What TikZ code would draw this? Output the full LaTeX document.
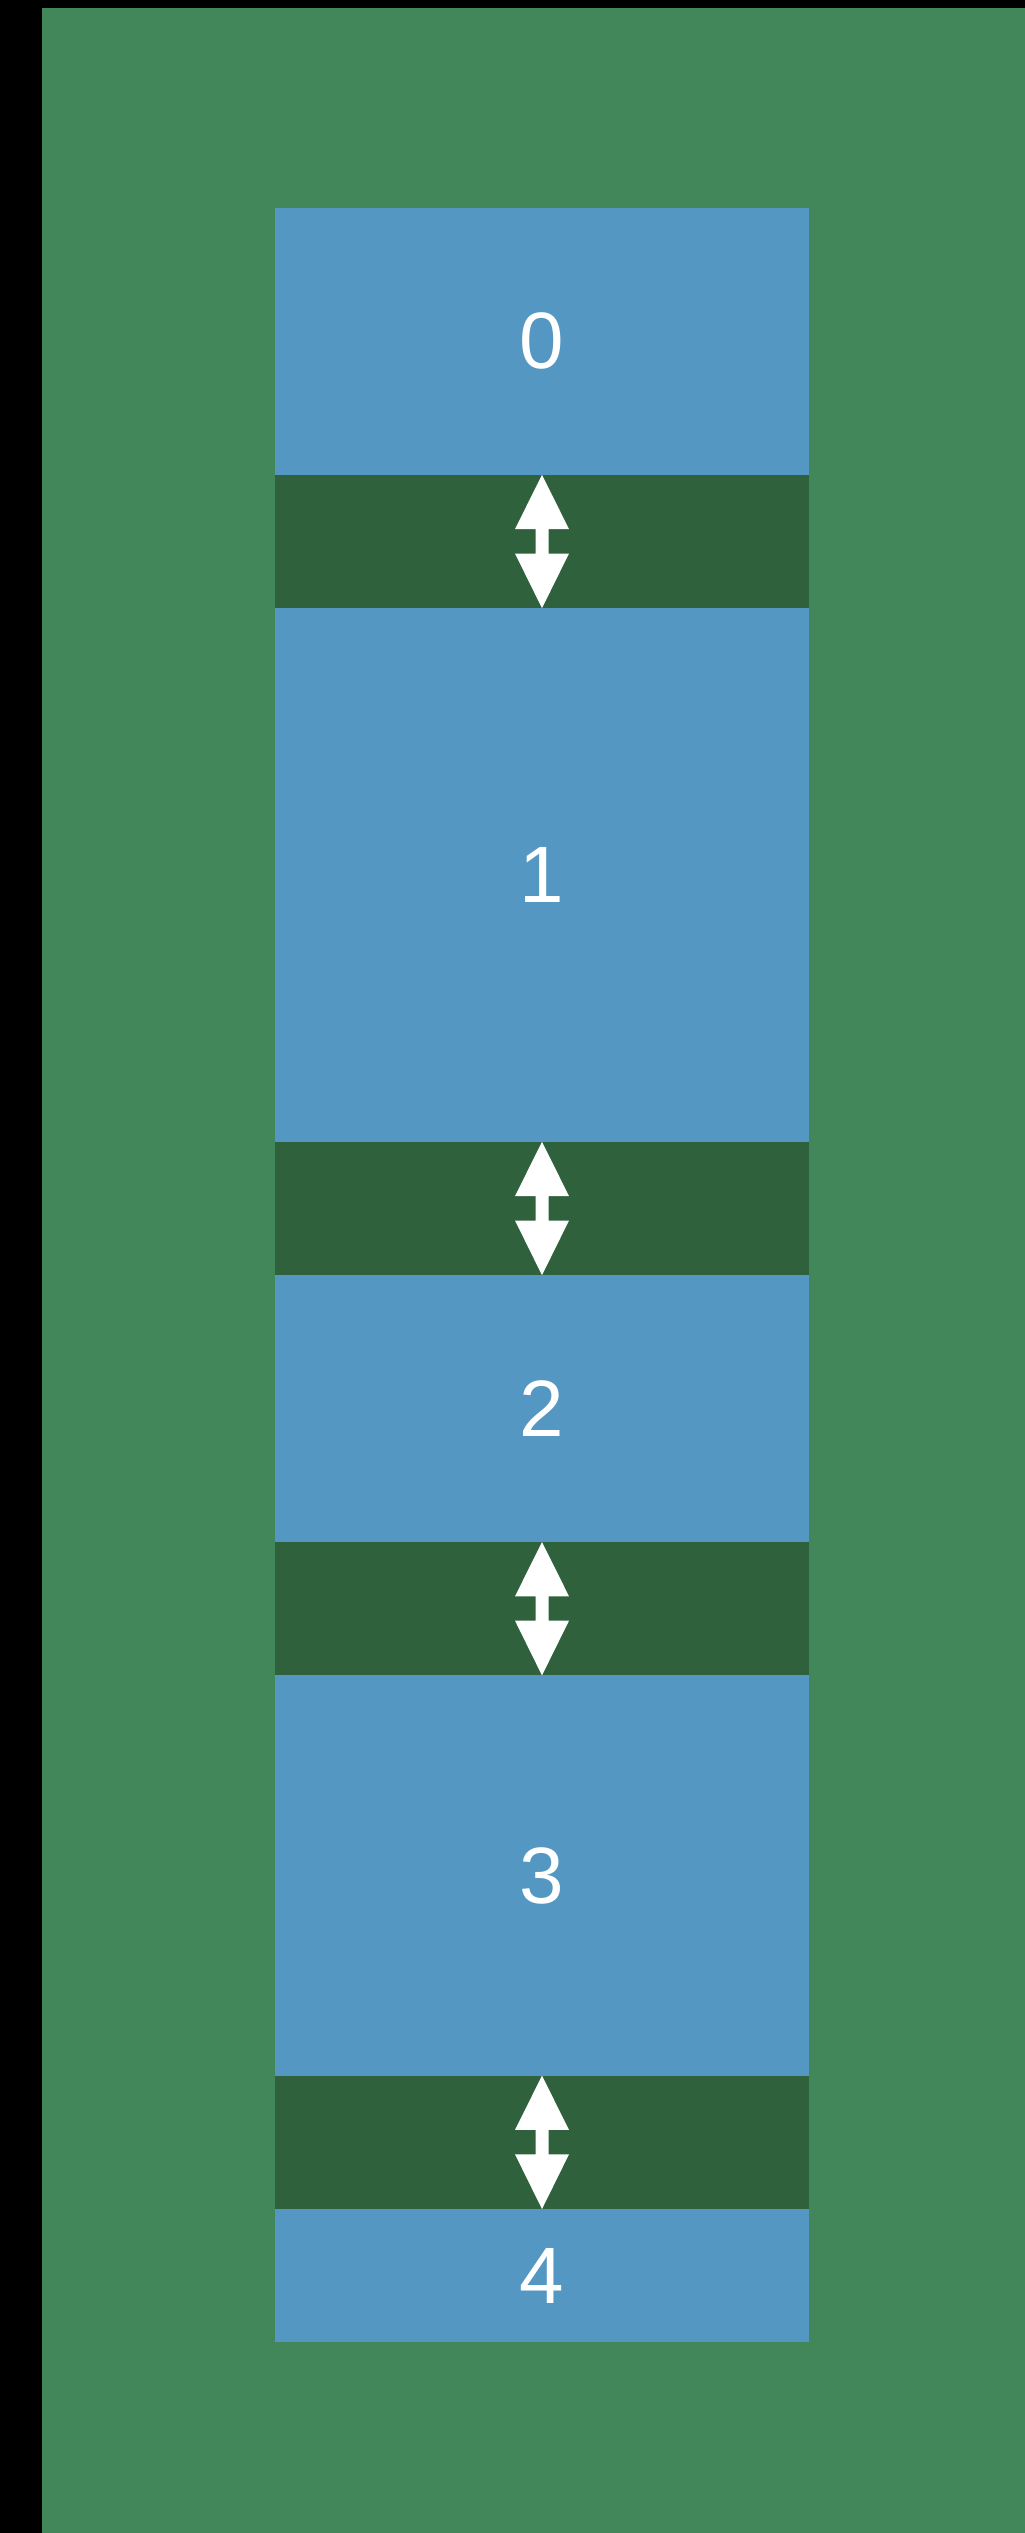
\documentclass[tikz,border=0pt]{standalone}
\usepackage{fontspec}
\setmainfont{Liberation Sans}
\definecolor{bggreen}{RGB}{65,135,89}
\definecolor{blockblue}{RGB}{83,151,194}
\definecolor{bandgreen}{RGB}{47,97,61}
\tikzset{
  block/.style={fill=blockblue, text=white, minimum width=534pt, inner sep=0pt, outer sep=0pt,
    anchor=north west, font=\fontsize{80}{96}\selectfont},
  gapband/.style={fill=bandgreen, minimum width=534pt, minimum height=133.4pt, inner sep=0pt,
    outer sep=0pt, anchor=north west},
  dblarrow/.style={fill=white}
}
\newcommand\bandarrow[1]{%
  \fill[dblarrow] (#1.north) -- ++(27,54.3) -- ++(-20.5,0) -- ++(0,24.4) -- ++(20.5,0)
    -- ++(-27,54.7) -- ++(-27,-54.7) -- ++(20.5,0) -- ++(0,-24.4) -- ++(-20.5,0) -- cycle;}
\begin{document}
\begin{tikzpicture}[x=1pt,y=-1pt]
\useasboundingbox (0,0) rectangle (1025,2533);
\fill[black] (0,0) rectangle (1025,2533);
\fill[bggreen] (42,8) rectangle (1025,2533);
\node[block, minimum height=266.8pt] (b0) at (275,208) {0};
\node[gapband] (g0) at (275,474.8) {};
\node[block, minimum height=533.6pt] (b1) at (275,608.2) {1};
\node[gapband] (g1) at (275,1141.8) {};
\node[block, minimum height=266.8pt] (b2) at (275,1275.2) {2};
\node[gapband] (g2) at (275,1542) {};
\node[block, minimum height=400.2pt] (b3) at (275,1675.4) {3};
\node[gapband] (g3) at (275,2075.6) {};
\node[block, minimum height=133.4pt] (b4) at (275,2209) {4};
\bandarrow{g0}
\bandarrow{g1}
\bandarrow{g2}
\bandarrow{g3}
\end{tikzpicture}
\end{document}
